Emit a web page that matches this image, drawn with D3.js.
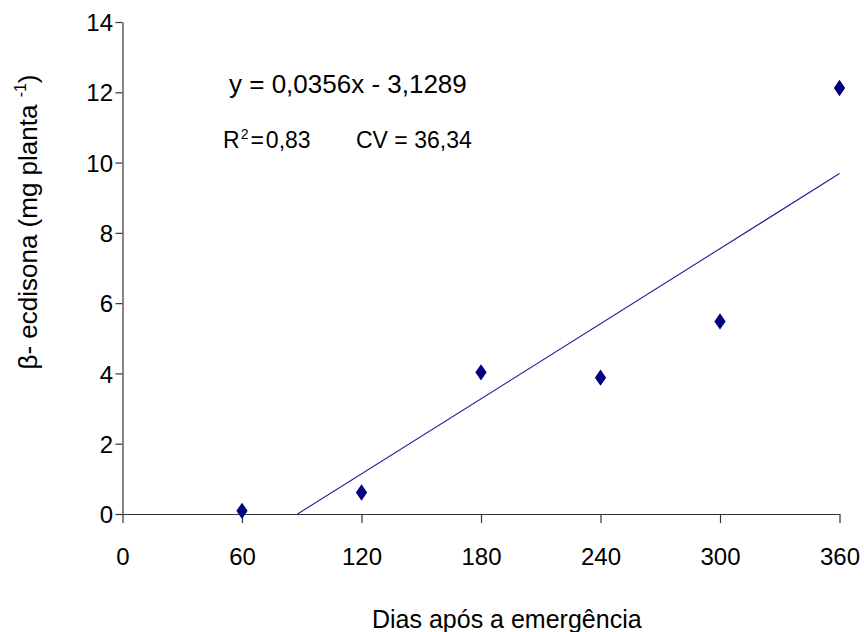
<!DOCTYPE html>
<html>
<head>
<meta charset="utf-8">
<script src="https://cdn.jsdelivr.net/npm/d3@7"></script>
<style>
  body { margin: 0; background: #fff; }
  text { font-family: "Liberation Sans", Arial, sans-serif; fill: #000; }
</style>
</head>
<body>
<div id="grafico"></div>
<script>
// données
let dias = [60, 120, 180, 240, 300, 360];
let ecdisona = [0.09, 0.61, 4.03, 3.88, 5.48, 12.12];
let ticksX = [0, 60, 120, 180, 240, 300, 360];
let ticksY = [0, 2, 4, 6, 8, 10, 12, 14];
// régression y = a x + b
let coefA = 0.0356;
let coefB = -3.1289;

// canevas
let largeur = 864;
let hauteur = 632;

let svg = d3.select("#grafico")
  .append("svg")
  .attr("width", largeur)
  .attr("height", hauteur);

svg.append("rect")
  .attr("width", "100%")
  .attr("height", "100%")
  .attr("fill", "#ffffff");

// echelles
let echelleX = d3.scaleLinear()
  .domain([0, 360])
  .range([122.5, 839.5]);

let echelleY = d3.scaleLinear()
  .domain([0, 14])
  .range([514, 22]);

// axe x
let axeX = svg.append("g")
  .attr("transform", "translate(0," + echelleY(0) + ")")
  .call(d3.axisBottom(echelleX).tickValues(ticksX).tickSize(9).tickSizeOuter(0));

// axe y
let axeY = svg.append("g")
  .attr("transform", "translate(" + echelleX(0) + ",0)")
  .call(d3.axisLeft(echelleY).tickValues(ticksY).tickSize(7).tickSizeOuter(0));

svg.selectAll(".domain, .tick line")
  .attr("stroke", "#333")
  .attr("stroke-width", 1.2);

svg.selectAll(".tick text")
  .attr("font-family", "Liberation Sans, Arial, sans-serif")
  .attr("font-size", 24)
  .attr("fill", "#000");

axeX.selectAll(".tick text")
  .attr("y", 51)
  .attr("dy", 0);
axeY.selectAll(".tick text")
  .attr("x", -9.5)
  .attr("dy", "0.36em");

// droite de régression
let xDebut = -coefB / coefA;
let droite = [xDebut, 360].map(x => [x, coefA * x + coefB]);

svg.append("path")
  .datum(droite)
  .attr("fill", "none")
  .attr("stroke", "#1c1c9c")
  .attr("stroke-width", 1.1)
  .attr("d", d3.line().x(d => echelleX(d[0])).y(d => echelleY(d[1])));

// points (losanges)
let losange = d3.symbol().type(d3.symbolDiamond).size(110);

svg.selectAll(".point")
  .data(dias)
  .enter()
  .append("path")
  .attr("class", "point")
  .attr("d", losange)
  .attr("fill", "#000080")
  .attr("transform", (d, i) => "translate(" + echelleX(d) + "," + echelleY(ecdisona[i]) + ") scale(1,0.84)");

// textes de l'équation
svg.append("text")
  .attr("x", 229)
  .attr("y", 93)
  .attr("font-size", 26)
  .text("y = 0,0356x - 3,1289");

let r2 = svg.append("text")
  .attr("x", 223)
  .attr("y", 148)
  .attr("font-size", 23);
r2.append("tspan").text("R");
r2.append("tspan").attr("font-size", 14).attr("dy", -9).attr("dx", 1).text("2");
r2.append("tspan").attr("dy", 9).attr("dx", 2).text("=");
r2.append("tspan").attr("dx", 2).text("0,83");

svg.append("text")
  .attr("x", 356)
  .attr("y", 148)
  .attr("font-size", 23)
  .text("CV = 36,34");

// titres des axes
svg.append("text")
  .attr("x", 372)
  .attr("y", 628)
  .attr("font-size", 25)
  .text("Dias após a emergência");

let titreY = svg.append("text")
  .attr("transform", "translate(37,222) rotate(-90)")
  .attr("text-anchor", "middle")
  .attr("font-size", 26);
titreY.append("tspan").text("β- ecdisona (mg planta ");
titreY.append("tspan").attr("font-size", 16).attr("dy", -11).text("-1");
titreY.append("tspan").attr("dy", 11).text(")");
</script>
</body>
</html>
